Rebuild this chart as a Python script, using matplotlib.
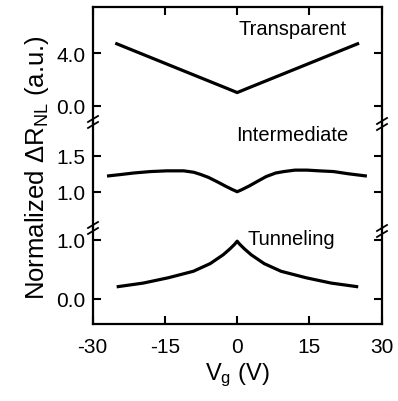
import numpy as np
import matplotlib
matplotlib.use("Agg")
import matplotlib.pyplot as plt
from matplotlib.lines import Line2D

plt.rcParams['font.family'] = ['Liberation Sans', 'DejaVu Sans']
plt.rcParams['mathtext.fontset'] = 'custom'
plt.rcParams['mathtext.rm'] = 'Liberation Sans'
plt.rcParams['mathtext.it'] = 'Liberation Sans:italic'

# data
vg_transparent = [-25, -12.5, -2, 0, 2, 12.5, 25]
r_transparent = [4.7, 2.85, 1.3, 1.0, 1.3, 2.85, 4.7]

vg_intermediate = [-26.7, -24, -21.5, -18, -14.6, -11.1, -9, -7.6, -6, -4.2, -2.5, -1, 0,
                   1, 2.5, 4.1, 6, 8, 9.7, 12, 14.5, 17, 20, 23, 26.6]
r_intermediate = [1.22, 1.24, 1.26, 1.28, 1.29, 1.29, 1.27, 1.24, 1.20, 1.14, 1.08, 1.03, 1.0,
                  1.03, 1.08, 1.14, 1.21, 1.26, 1.28, 1.30, 1.30, 1.29, 1.28, 1.25, 1.22]

vg_tunneling = [-24.7, -19.5, -14.3, -9.1, -5.6, -2.9, -1.5, -0.5, 0,
                0.5, 1.5, 2.9, 5.6, 9.1, 14.3, 19.5, 24.8]
r_tunneling = [0.21, 0.27, 0.36, 0.47, 0.60, 0.75, 0.85, 0.93, 0.98,
               0.93, 0.85, 0.75, 0.60, 0.47, 0.36, 0.27, 0.21]

x_ticks = [-30, -15, 0, 15, 30]
x_ticklabels = ['-30', '-15', '0', '15', '30']

fig = plt.figure(figsize=(3.98, 4.02), dpi=100)
L, W = 0.2329, 0.7261
ax_t = fig.add_axes([L, 0.6915, W, 0.2886])
ax_m = fig.add_axes([L, 0.4303, W, 0.2612])
ax_b = fig.add_axes([L, 0.1915, W, 0.2388])

lw = 2.3
ax_t.plot(vg_transparent, r_transparent, color='black', lw=lw)
ax_m.plot(vg_intermediate, r_intermediate, color='black', lw=lw)
ax_b.plot(vg_tunneling, r_tunneling, color='black', lw=lw)

ax_t.set_ylim(-1.31, 7.49)
ax_m.set_ylim(0.496, 1.954)
ax_b.set_ylim(-0.424, 1.203)
ax_t.set_yticks([0.0, 4.0])
ax_t.set_yticklabels(['0.0', '4.0'])
ax_m.set_yticks([1.0, 1.5])
ax_m.set_yticklabels(['1.0', '1.5'])
ax_b.set_yticks([0.0, 1.0])
ax_b.set_yticklabels(['0.0', '1.0'])

for ax in (ax_t, ax_m, ax_b):
    ax.set_xlim(-30, 30)
    ax.set_xticks(x_ticks)
    for s in ax.spines.values():
        s.set_linewidth(1.6)
    ax.tick_params(direction='in', length=6, width=1.5, labelsize=15,
                   right=True, top=False, bottom=False, labelbottom=False, pad=5)

ax_t.spines['bottom'].set_visible(False)
ax_m.spines['top'].set_visible(False)
ax_m.spines['bottom'].set_visible(False)
ax_b.spines['top'].set_visible(False)
ax_t.tick_params(axis='x', top=True)
ax_b.tick_params(axis='x', bottom=True, labelbottom=True, pad=9)
ax_b.set_xticklabels(x_ticklabels)

ax_t.text(11.4, 5.83, 'Transparent', fontsize=14.5, ha='center', va='center')
ax_m.text(11.4, 1.79, 'Intermediate', fontsize=14.5, ha='center', va='center')
ax_b.text(2.2, 1.02, 'Tunneling', fontsize=14.5, ha='left', va='center')

ax_b.set_xlabel('V$_{\\mathrm{g}}$ (V)', fontsize=17, labelpad=4)
fig.text(0.093, 0.582, 'Normalized \u0394R$_{\\mathrm{NL}}$ (a.u.)', fontsize=18.5,
         rotation=90, ha='center', va='center')

# break marks on the left and right spines
def brk(xp, yp):
    for dy in (-3, 3):
        x0, x1 = (xp - 5) / 398, (xp + 5) / 398
        y0, y1 = 1 - (yp + dy + 3) / 402, 1 - (yp + dy - 3) / 402
        fig.add_artist(Line2D([x0, x1], [y0, y1], color='black', lw=1.3))

brk(93, 123)
brk(382, 125)
brk(93, 229)
brk(382, 232)

fig.savefig('out.png', dpi=100)
